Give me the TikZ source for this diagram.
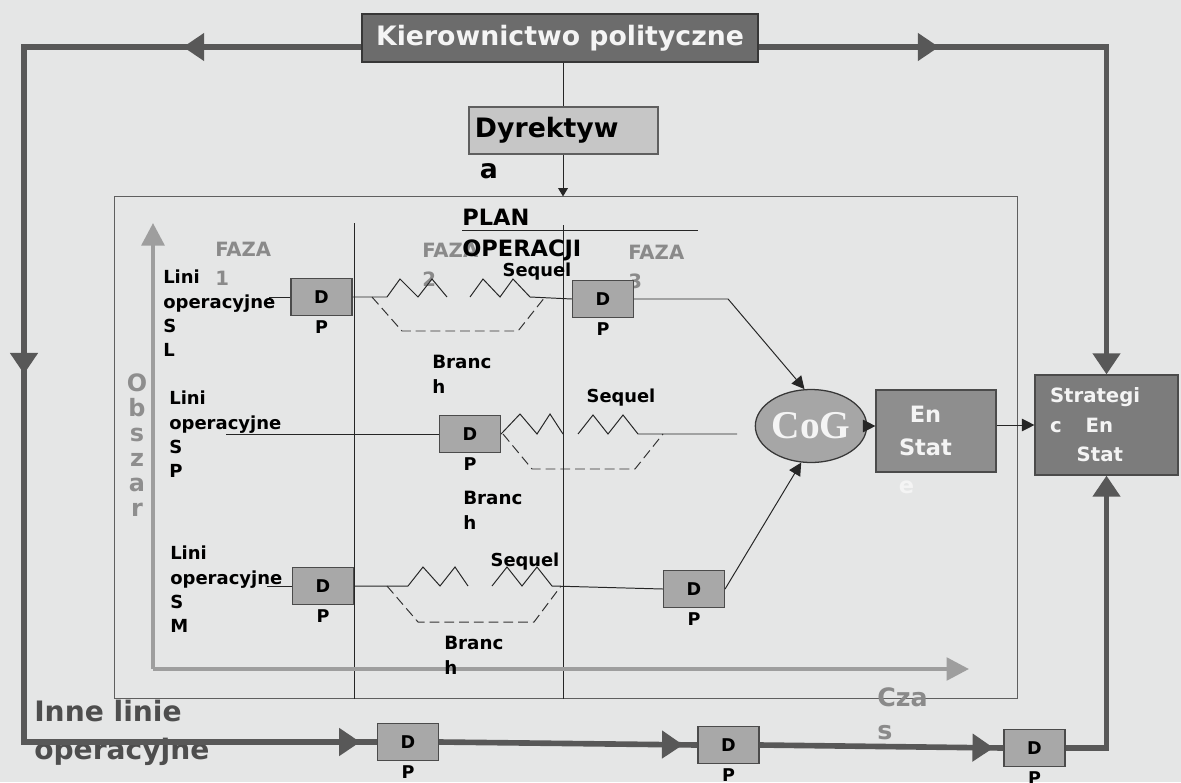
\documentclass[tikz,border=0pt]{standalone}
\usepackage{fontspec}
\setmainfont{DejaVu Sans}
\newfontfamily\cogfont{Liberation Serif}
\usetikzlibrary{arrows.meta, decorations.markings, shapes.geometric, positioning}

\definecolor{paper}{RGB}{229,230,230}
\definecolor{edgegray}{RGB}{55,55,55}
\definecolor{titlefill}{RGB}{108,108,108}
\definecolor{dirfill}{RGB}{198,198,198}
\definecolor{trackgray}{RGB}{88,88,88}
\definecolor{dpfill}{RGB}{168,168,168}
\definecolor{cogfill}{RGB}{166,166,166}
\definecolor{statefill}{RGB}{142,142,142}
\definecolor{stratfill}{RGB}{124,124,124}
\definecolor{axisgray}{RGB}{158,158,158}
\definecolor{fazagray}{RGB}{138,138,138}
\definecolor{innegray}{RGB}{78,78,78}
\definecolor{boxwhite}{RGB}{244,244,244}

\tikzset{
  titlebox/.style = {
    rectangle,
    draw=edgegray,
    fill=titlefill,
    text=boxwhite,
    font=\fontsize{19}{22}\selectfont\bfseries,
    minimum width=9.9cm,
    minimum height=1.2cm,
    inner sep=0pt,
    line width=1.2pt
  },
  dirbox/.style = {
    rectangle,
    draw=edgegray!80,
    fill=dirfill,
    font=\fontsize{19}{22}\selectfont\bfseries,
    text width=4.425cm,
    inner xsep=0.15cm,
    minimum height=1.175cm,
    align=left,
    line width=0.8pt
  },
  dirlabel/.style = {
    font=\fontsize{19}{22}\selectfont\bfseries,
    anchor=north west,
    inner sep=0pt,
    xshift=0.28cm,
    yshift=-6.4pt
  },
  dpbox/.style = {
    rectangle,
    draw=edgegray!90,
    fill=dpfill,
    font=\fontsize{12.5}{15}\selectfont\bfseries,
    minimum width=1.525cm,
    minimum height=0.925cm,
    inner sep=0pt,
    line width=0.8pt,
    label={[font=\fontsize{12.5}{15}\selectfont\bfseries, inner sep=0pt, yshift=-3pt]below:P}
  },
  cogellipse/.style = {
    ellipse,
    draw=edgegray,
    fill=cogfill,
    text=boxwhite,
    font=\fontsize{28}{30}\selectfont\cogfont\bfseries,
    minimum width=2.6cm,
    minimum height=1.825cm,
    inner sep=0pt,
    line width=0.9pt
  },
  statebox/.style = {
    rectangle,
    draw=edgegray!90,
    fill=statefill,
    text=boxwhite,
    font=\fontsize{16}{24}\selectfont\bfseries,
    align=center,
    minimum width=3cm,
    minimum height=2.05cm,
    inner sep=0pt,
    line width=0.8pt
  },
  stratbox/.style = {
    rectangle,
    draw=edgegray!90,
    fill=stratfill,
    text=boxwhite,
    font=\fontsize{14}{21}\selectfont\bfseries,
    align=left,
    text width=2.825cm,
    inner xsep=0.375cm,
    minimum height=2.5cm,
    line width=0.8pt
  },
  planframe/.style = {
    rectangle,
    draw=edgegray!80,
    minimum width=22.55cm,
    minimum height=12.525cm,
    line width=0.7pt
  },
  rowlabel/.style = {
    anchor=north west,
    align=left,
    inner sep=0pt,
    font=\fontsize{12.8}{17.3}\selectfont\bfseries
  },
  fazalabel/.style = {
    anchor=north west,
    align=left,
    inner sep=0pt,
    text=fazagray,
    font=\fontsize{14}{20.6}\selectfont\bfseries
  },
  planlabel/.style = {
    anchor=north west,
    inner sep=0pt,
    font=\fontsize{16}{19}\selectfont\bfseries
  },
  seqlabel/.style = {
    inner sep=0pt,
    font=\fontsize{12.7}{15}\selectfont\bfseries
  },
  branchlabel/.style = {
    anchor=north west,
    align=left,
    inner sep=0pt,
    font=\fontsize{13}{17.8}\selectfont\bfseries
  },
  rowline/.style = {
    line width=0.7pt,
    draw=black!85
  },
  branchline/.style = {
    line width=0.7pt,
    draw=black!80,
    dash pattern=on 7pt off 3.5pt
  },
  thinarrow/.style = {
    -{Triangle[length=9pt, width=9pt]},
    line width=0.7pt,
    draw=black!85
  },
  axisline/.style = {
    -{Triangle[length=16pt, width=16pt]},
    line width=3pt,
    draw=axisgray
  },
  trackline/.style = {
    line width=4pt,
    color=trackgray,
    line join=miter
  },
  trackarrow/.style = {
    postaction={decorate, decoration={markings,
      mark=at position #1 with {\arrow{Triangle[length=15pt, width=19pt]}}}}
  }
}

\begin{document}
\begin{tikzpicture}[x=0.025cm, y=-0.025cm]
  % paper
  \fill[paper] (0,0) rectangle (1181,782);
  \useasboundingbox (0,0) rectangle (1181,782);

  % Operation plan frame with phase borders
  \node[planframe] (plan) at (566,447.5) {};
  \coordinate (sep1) at (354,223);
  \coordinate (sep2) at (563,225);
  \draw[rowline] (sep1) -- (sep1 |- plan.south);
  \draw[rowline] (sep2) -- (sep2 |- plan.south);

  % Axes: area and time
  \coordinate (origin) at (153,669);
  \draw[axisline] (origin) -- (153,223);
  \draw[axisline] (origin) -- (969,669);
  \node[anchor=north, align=center, inner sep=0pt, text=axisgray!90!black,
        font=\fontsize{17}{17.8}\selectfont\bfseries] (area) at (137,373) {O\\b\\s\\z\\a\\r};
  \node[anchor=north west, align=left, inner sep=0pt, text=fazagray,
        font=\fontsize{18}{23.5}\selectfont\bfseries] (time) at (877,687) {Cza\\s};

  % Phases
  \node[fazalabel] (faza1) at (215,242) {FAZA\\1};
  \node[fazalabel] (faza2) at (422,243) {FAZA\\2};
  \node[fazalabel] (faza3) at (628,245) {FAZA\\3};
  \node[planlabel] (plantop) at (462,209) {PLAN};
  \node[planlabel] (planbot) at (462,240) {OPERACJI};
  \draw[rowline] (plantop.south west |- 0,230) -- ++(236,0);

  % Lines of operation labels
  \node[rowlabel] (lineSL) at (163,270) {Lini\\operacyjne\\S\\L};
  \node[rowlabel] (lineSP) at (169,391) {Lini\\operacyjne\\S\\P};
  \node[rowlabel] (lineSM) at (170,546) {Lini\\operacyjne\\S\\M};

  % Decision points
  \node[dpbox] (dpa) at (321.5,297) {D};
  \node[dpbox] (dpb) at (603,299) {D};
  \node[dpbox] (dpc) at (470,434) {D};
  \node[dpbox] (dpd) at (323,586) {D};
  \node[dpbox] (dpe) at (694,589) {D};
  \node[dpbox] (dpf) at (408,742) {D};
  \node[dpbox] (dpg) at (728.5,745) {D};
  \node[dpbox] (dph) at (1034.5,748) {D};

  % Centre of gravity and end states
  \node[cogellipse] (cog) at (811,426) {CoG};
  \node[statebox, label={[text=boxwhite, font=\fontsize{16}{24}\selectfont\bfseries,
        inner sep=0pt, xshift=-21pt, yshift=-6pt]below:e}] (state) at (936,431)
        {En\hspace*{15pt}\\Stat\hspace*{15pt}};
  \node[stratbox] (strat) at (1106.5,425) {Strategi\\c\hspace{17pt}En\\\hspace*{19pt}Stat};

  % Directive
  \node[titlebox] (title) at (560,38) {Kierownictwo polityczne};
  \node[dirbox, label={[dirlabel]south west:a}] (dir) at (563.5,130.5) {Dyrektyw};
  \draw[rowline] (title.south -| sep2) -- (dir.north -| sep2);
  \draw[rowline, -{Triangle[length=6pt, width=7pt]}] (dir.south -| sep2) -- (plan.north -| sep2);

  % Line S L
  \draw[rowline] (dpa.west) -- ++(-21,0);
  \draw[rowline] (dpa.east) -- (387,297) -- (400,279) -- (418,297) -- (432,279) -- (447,297);
  \draw[rowline] (470,297) -- (483,279) -- (500,297) -- (513,279) -- (530,297) -- (dpb.west);
  \draw[branchline] (372,297) -- (402,331) -- (518,331) -- (545,297);
  \draw[thinarrow] (dpb.east) -- ++(94,0) -- (cog.100);
  \node[seqlabel] (seqSL) at (537,272) {Sequel};
  \node[branchlabel] (brSL) at (432,355) {Branc\\h};

  % Line S P
  \draw[rowline] (dpc.west) -- (226,434);
  \draw[rowline] (dpc.east) -- (520,414) -- (537,434) -- (550,414) -- (563,434);
  \draw[rowline] (578,434) -- (593,415) -- (608,434) -- (623,415) -- (638,434) -- (737,434);
  \draw[branchline] (503,434) -- (532,469) -- (635,469) -- (663,434);
  \node[seqlabel] (seqSP) at (621,398) {Sequel};
  \node[branchlabel] (brSP) at (463,491) {Branc\\h};

  % Line S M
  \draw[rowline] (dpd.west) -- ++(-25,0);
  \draw[rowline] (dpd.east) -- (408,586) -- (423,567) -- (440,586) -- (455,567) -- (468,586);
  \draw[rowline] (492,586) -- (507,567) -- (522,586) -- (537,567) -- (552,586) -- (dpe.west);
  \draw[branchline] (387,586) -- (418,622) -- (534,622) -- (561,586);
  \draw[thinarrow] (dpe.east) -- (cog.-105);
  \node[seqlabel] (seqSM) at (525,562) {Sequel};
  \node[branchlabel] (brSM) at (444,636) {Branc\\h};

  % CoG to end states
  \draw[thinarrow] (cog.east) -- (cog.east -| state.west);
  \draw[thinarrow] (state.east |- strat.west) -- (strat.west);

  % Other lines of operation
  \node[anchor=north west, align=left, inner sep=0pt, text=innegray,
        font=\fontsize{20}{27}\selectfont\bfseries] (other) at (34,700) {Inne linie\\operacyjne};

  % Political leadership loop
  \coordinate (tl) at (24,47);
  \coordinate (bl) at (24,742);
  \draw[trackline, trackarrow=4.45cm, trackarrow=16.6cm, trackarrow=34.2cm]
    (title.west |- tl) -- (tl) -- (bl) -- (dpf.west);
  \draw[trackline, trackarrow=6.1cm] (dpf.east) -- (dpg.west);
  \draw[trackline, trackarrow=5.85cm] (dpg.east) -- (dph.west);
  \draw[trackline, -{Triangle[length=15pt, width=19pt]}]
    (dph.east) -- (dph.east -| strat.south) -- (strat.south);
  \draw[trackline, trackarrow=4.5cm, -{Triangle[length=15pt, width=19pt]}]
    (title.east |- tl) -- (tl -| strat.north) -- (strat.north);
\end{tikzpicture}
\end{document}
